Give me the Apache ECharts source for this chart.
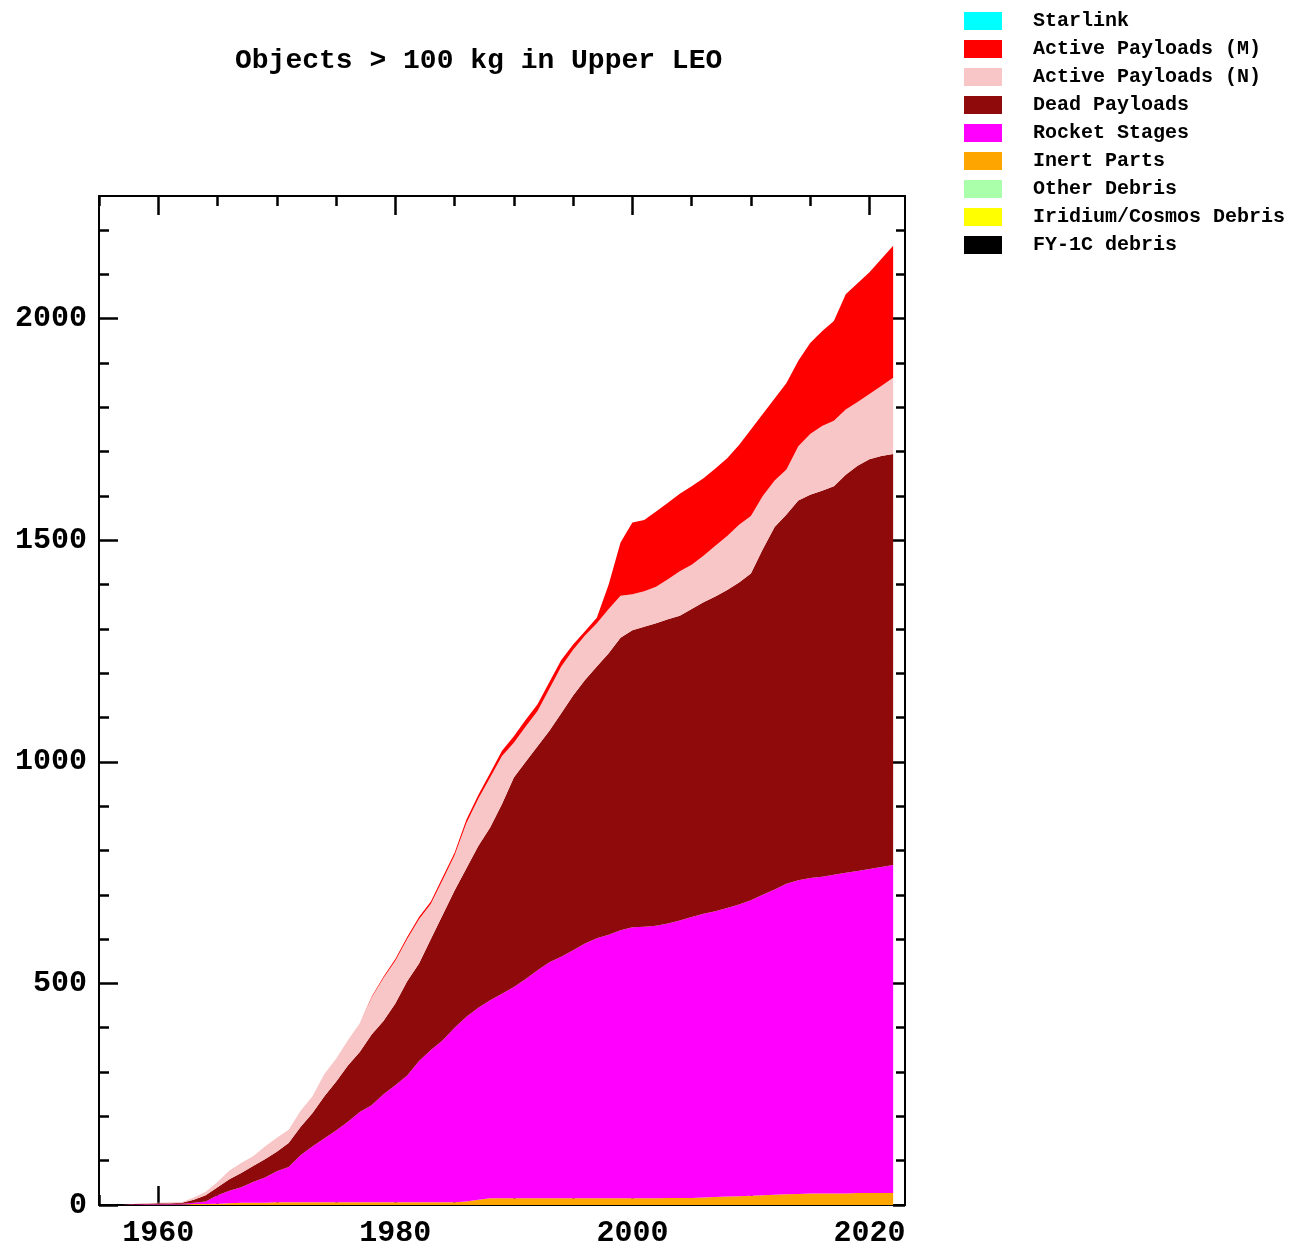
<!DOCTYPE html>
<html>
<head>
<meta charset="utf-8">
<script src="https://cdn.jsdelivr.net/npm/echarts@6/dist/echarts.min.js"></script>
<style>html,body{margin:0;padding:0;background:#fff}#c{width:1299px;height:1252px}</style>
</head>
<body>
<div id="c"></div>
<script>
// ---- data (objects counted per year) ----
const years = [1957,1958,1959,1960,1961,1962,1963,1964,1965,1966,1967,1968,1969,1970,1971,1972,1973,1974,1975,1976,1977,1978,1979,1980,1981,1982,1983,1984,1985,1986,1987,1988,1989,1990,1991,1992,1993,1994,1995,1996,1997,1998,1999,2000,2001,2002,2003,2004,2005,2006,2007,2008,2009,2010,2011,2012,2013,2014,2015,2016,2017,2018,2019,2020,2021,2022];
const fy1cDebris = [0,0,0,0,0,0,0,0,0,0,0,0,0,0,0,0,0,0,0,0,0,0,0,0,0,0,0,0,0,0,0,0,0,0,0,0,0,0,0,0,0,0,0,0,0,0,0,0,0,0,0,0,0,0,0,0,0,0,0,0,0,0,0,0,0,0];
const iridiumCosmosDebris = [0,0,0,0,0,0,0,0,0,0,0,0,0,0,0,0,0,0,0,0,0,0,0,0,0,0,0,0,0,0,0,0,0,0,0,0,0,0,0,0,0,0,0,0,0,0,0,0,0,0,0,0,0,0,0,0,0,0,0,0,0,0,0,0,0,0];
const otherDebris = [0,0,0,0,0,0,0,0,0,0,0,0,0,0,0,0,0,0,0,0,0,0,0,0,0,0,0,0,0,0,0,0,0,0,0,0,0,0,0,0,0,0,0,0,0,0,0,0,0,0,0,0,0,0,0,0,0,0,0,0,0,0,0,0,0,0];
const inertParts = [0,0,1,1,1,1,2,2,3,4,5,5,5,6,6,6,6,6,6,6,6,6,6,6,6,6,6,6,6,8,12,15,15,15,15,15,15,15,15,15,15,15,15,15,15,15,16,16,16,17,18,19,20,21,22,23,24,25,26,26,26,26,27,27,27,27];
const rocketStages = [0,1,1,1,2,2,3,6,19,28,35,47,57,70,80,106,126,144,162,182,204,219,244,264,286,319,344,366,394,417,433,447,462,477,495,515,533,545,560,575,587,595,605,612,613,615,619,626,634,640,645,651,658,667,678,689,701,708,712,715,719,724,727,731,736,740];
const deadPayloads = [0,1,1,2,1,2,7,14,18,26,32,36,41,44,54,64,75,95,110,127,135,160,165,185,213,220,250,283,310,335,365,390,428,473,490,505,522,550,575,595,613,635,660,670,677,683,687,688,695,703,710,718,727,737,780,818,833,857,865,871,877,898,914,925,927,928];
const activePayloadsN = [0,1,1,1,2,2,5,8,12,20,23,22,29,32,30,36,38,50,52,57,65,83,97,96,95,100,80,79,79,102,107,113,108,78,80,80,95,105,103,100,98,100,95,81,80,82,90,100,100,105,115,122,130,130,120,105,102,122,137,146,148,147,144,147,158,172];
const activePayloadsM = [0,0,0,0,0,0,0,0,0,0,0,0,0,0,0,0,0,0,0,0,0,2,3,4,5,5,5,6,6,8,8,10,12,15,15,15,15,15,12,10,12,55,120,162,161,170,173,175,177,175,174,175,180,195,185,185,195,193,205,214,225,260,268,275,287,298];
const starlink = [0,0,0,0,0,0,0,0,0,0,0,0,0,0,0,0,0,0,0,0,0,0,0,0,0,0,0,0,0,0,0,0,0,0,0,0,0,0,0,0,0,0,0,0,0,0,0,0,0,0,0,0,0,0,0,0,0,0,0,0,0,0,0,0,0,0];

const xLabelYears = [1960, 1980, 2000, 2020];
const xMinorYears = [1955,1960,1965,1970,1975,1980,1985,1990,1995,2000,2005,2010,2015,2020];
const yLabelValues = [0, 500, 1000, 1500, 2000];
const yMinorValues = [100,200,300,400,600,700,800,900,1100,1200,1300,1400,1600,1700,1800,1900,2100,2200];

const titleText = 'Objects > 100 kg in Upper LEO';

// stacking order: bottom -> top
const seriesDefs = [
  ['FY-1C debris', fy1cDebris, '#000000'],
  ['Iridium/Cosmos Debris', iridiumCosmosDebris, '#ffff00'],
  ['Other Debris', otherDebris, '#aaffaa'],
  ['Inert Parts', inertParts, '#ffa500'],
  ['Rocket Stages', rocketStages, '#ff00ff'],
  ['Dead Payloads', deadPayloads, '#8f0a0a'],
  ['Active Payloads (N)', activePayloadsN, '#f8c6c6'],
  ['Active Payloads (M)', activePayloadsM, '#ff0000'],
  ['Starlink', starlink, '#00ffff']
];
const legendOrder = ['Starlink','Active Payloads (M)','Active Payloads (N)','Dead Payloads','Rocket Stages','Inert Parts','Other Debris','Iridium/Cosmos Debris','FY-1C debris'];

const FONT = 'Liberation Mono';
const X_MIN = 1955, X_MAX = 2023, Y_MIN = 0, Y_MAX = 2277;
const black = '#000';
const plain = v => String(v);

function xAx(pos, vals, len, showLine, labels) {
  return {
    type: 'value', position: pos, min: X_MIN, max: X_MAX,
    splitLine: { show: false },
    axisLine: { show: showLine, onZero: false, lineStyle: { color: black, width: 2 } },
    axisTick: { show: true, inside: true, length: len, customValues: vals, lineStyle: { color: black, width: 2.5 } },
    axisLabel: labels ? { show: true, customValues: xLabelYears, formatter: plain, color: black, fontFamily: FONT, fontWeight: 'bold', fontSize: 30, margin: 13 } : { show: false }
  };
}
function yAx(pos, vals, len, showLine, labels) {
  return {
    type: 'value', position: pos, min: Y_MIN, max: Y_MAX,
    splitLine: { show: false },
    axisLine: { show: showLine, onZero: false, lineStyle: { color: black, width: 2 } },
    axisTick: { show: true, inside: true, length: len, customValues: vals, lineStyle: { color: black, width: 2.5 } },
    axisLabel: labels ? { show: true, customValues: yLabelValues, formatter: plain, color: black, fontFamily: FONT, fontWeight: 'bold', fontSize: 30, margin: 12 } : { show: false }
  };
}

const chart = echarts.init(document.getElementById('c'), null, { renderer: 'canvas' });
chart.setOption({
  animation: false,
  backgroundColor: '#ffffff',
  title: {
    text: titleText, left: 230, top: 42,
    textStyle: { fontFamily: FONT, fontWeight: 'bold', fontSize: 28, color: black }
  },
  legend: {
    orient: 'vertical', left: 964, top: 11, padding: 0,
    itemWidth: 38, itemHeight: 18, itemGap: 8,
    icon: 'rect', selectedMode: false,
    data: legendOrder,
    itemStyle: { borderWidth: 0 },
    textStyle: { fontFamily: FONT, fontWeight: 'bold', fontSize: 20, lineHeight: 18, color: black, padding: [0, 0, 0, 26] }
  },
  grid: { left: 99, right: 394, top: 196, bottom: 47 },
  xAxis: [
    xAx('bottom', xLabelYears, 19, true, true),
    xAx('bottom', xMinorYears, 10, false, false),
    xAx('top', xLabelYears, 19, true, false),
    xAx('top', xMinorYears, 10, false, false)
  ],
  yAxis: [
    yAx('left', yLabelValues, 19, true, true),
    yAx('left', yMinorValues, 10, false, false),
    yAx('right', yLabelValues, 12, true, false),
    yAx('right', yMinorValues, 9, false, false)
  ],
  series: seriesDefs.map(([name, vals, col]) => ({
    name: name, type: 'line', stack: 'total',
    xAxisIndex: 0, yAxisIndex: 0,
    color: col,
    symbol: 'none', showSymbol: false,
    lineStyle: { width: 0 },
    areaStyle: { color: col, opacity: 1 },
    // value first so the stack runs along the y (count) dimension
    encode: { x: 1, y: 0 },
    data: years.map((y, i) => [vals[i], y])
  }))
});
</script>
</body>
</html>
